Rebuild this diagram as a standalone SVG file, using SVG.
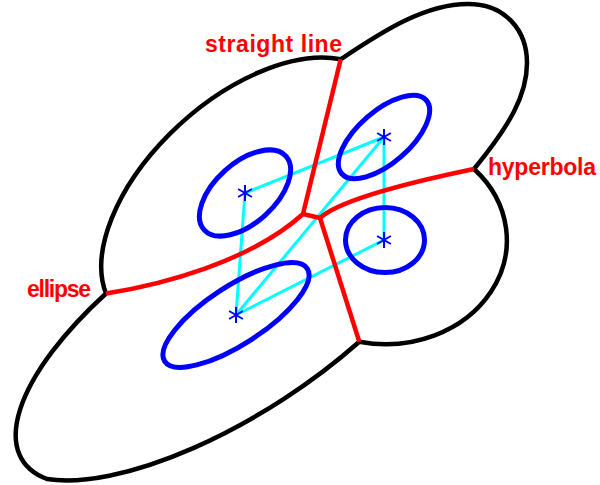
<svg xmlns="http://www.w3.org/2000/svg" width="600" height="485" viewBox="0 0 600 485">
<style>
.outline{fill:none;stroke:#000;stroke-width:4.5;stroke-linejoin:miter}
.bis{fill:none;stroke:#f00;stroke-width:4.5;stroke-linejoin:round}
.site{fill:none;stroke:#00f;stroke-width:5}
.link{stroke:#0ff;stroke-width:3;fill:none}
.lbl{font-family:"Liberation Sans",Arial,sans-serif;font-weight:bold;font-size:23px;fill:#f00}
</style>
<defs>
<g id="star" stroke="#00f" stroke-width="2">
<line x1="0" y1="-8" x2="0" y2="8"/>
<line x1="-6.9" y1="-4" x2="6.9" y2="4"/>
<line x1="-6.9" y1="4" x2="6.9" y2="-4"/>
</g>
</defs>
<g id="outline">
<path class="outline" d="M 340.7 59.3 C 383 31 425 4 468 4 C 505 4 527 30 527 63 C 527 95 510 125 474 169 A 121 104 0 0 1 359.3 341.7 A 264 103 -33 0 1 47 479 A 264 103 -33 0 1 106 293.5 A 174 96 -42 0 1 340.7 59.3 Z"/>
</g>
<g id="connectors">
<line class="link" x1="245" y1="193" x2="384" y2="137"/>
<line class="link" x1="245" y1="193" x2="236" y2="315"/>
<line class="link" x1="236" y1="315" x2="384" y2="137"/>
<line class="link" x1="236" y1="315" x2="384" y2="240"/>
<line class="link" x1="384" y1="137" x2="384" y2="240"/>
</g>
<g id="bisectors">
<path class="bis" d="M 340.7 59.3 L 303 214"/>
<path class="bis" d="M 303 214 L 320 218"/>
<path class="bis" d="M 320 218 Q 344 196 474 169"/>
<path class="bis" d="M 303 214 C 250 262 160 285 106 293.5"/>
<path class="bis" d="M 320 218 L 359.3 341.7"/>
</g>
<g id="site-a">
<ellipse class="site" cx="0" cy="0" rx="55" ry="30" transform="translate(245 193) rotate(-42)"/>
<use href="#star" x="245" y="193"/>
</g>
<g id="site-b">
<ellipse class="site" cx="0" cy="0" rx="56" ry="26" transform="translate(384 137) rotate(-41)"/>
<use href="#star" x="384" y="137"/>
</g>
<g id="site-c">
<ellipse class="site" cx="385" cy="240" rx="39.5" ry="32.5"/>
<use href="#star" x="384" y="240"/>
</g>
<g id="site-d">
<ellipse class="site" cx="0" cy="0" rx="85" ry="29" transform="translate(236 315) rotate(-33)"/>
<use href="#star" x="236" y="315"/>
</g>
<g id="label-straight-line"><text class="lbl" x="205" y="52" textLength="137" lengthAdjust="spacing">straight line</text></g>
<g id="label-hyperbola"><text class="lbl" x="488" y="175" textLength="108" lengthAdjust="spacing">hyperbola</text></g>
<g id="label-ellipse"><text class="lbl" x="27" y="297" textLength="64" lengthAdjust="spacing">ellipse</text></g>
</svg>
